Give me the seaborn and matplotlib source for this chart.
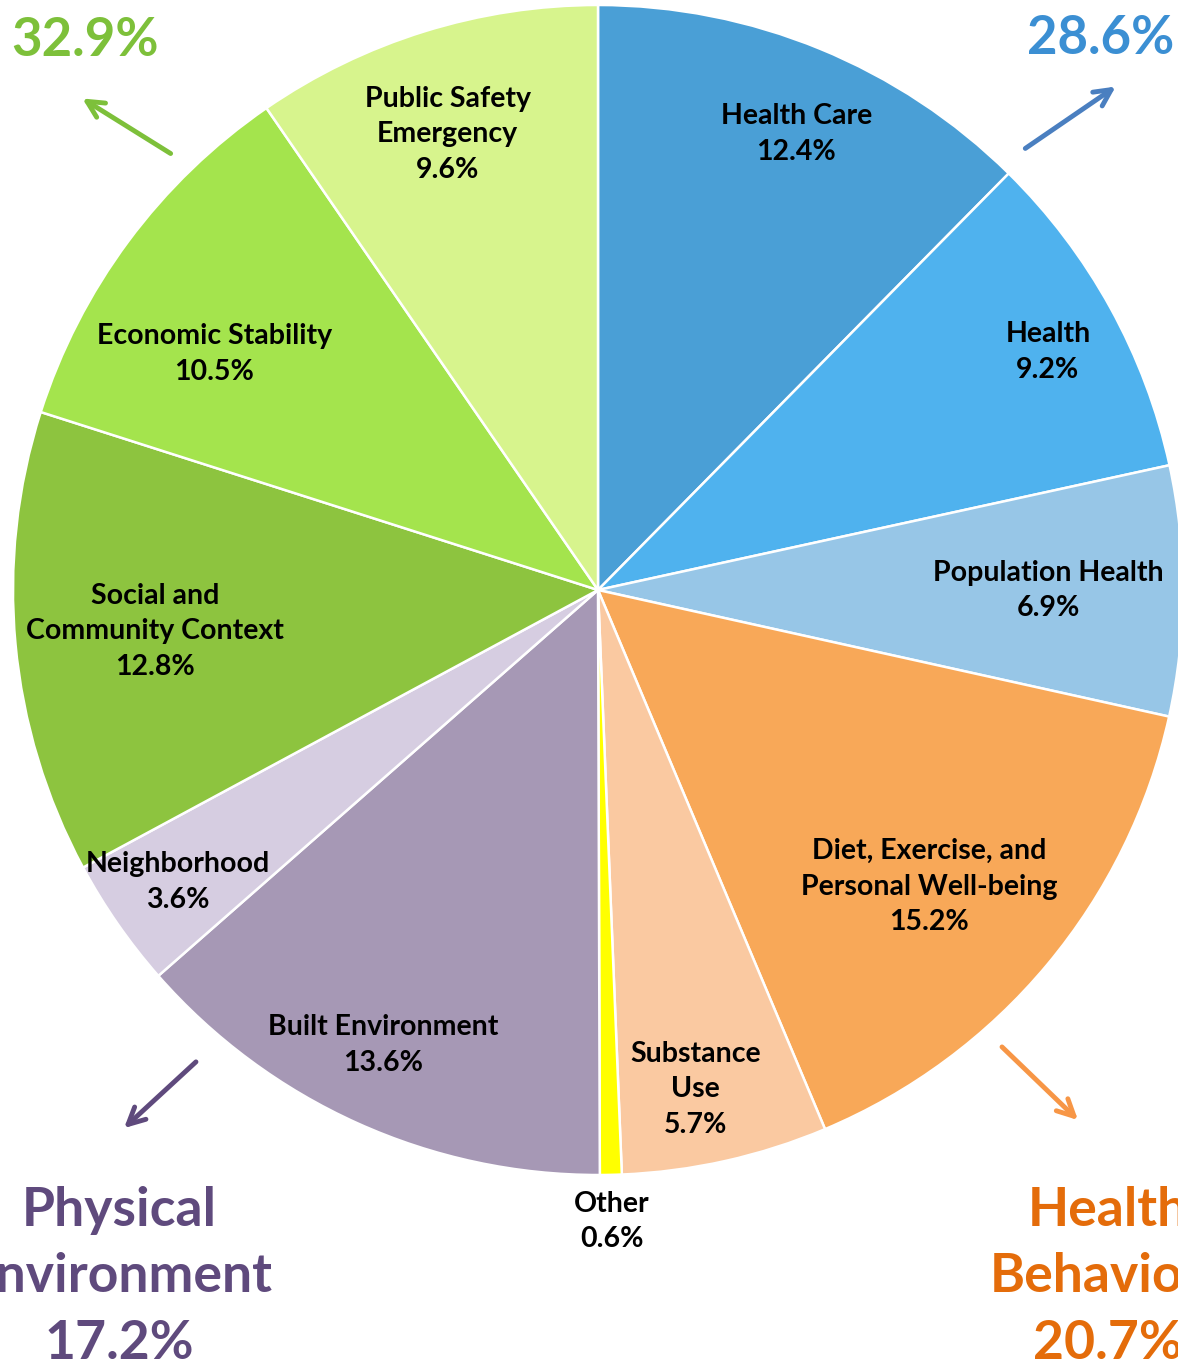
import numpy as np
import matplotlib
matplotlib.use("Agg")
import matplotlib.pyplot as plt
import seaborn as sns

# ---- data ----
categories = ["Health Care", "Health", "Population Health",
              "Diet, Exercise, and\nPersonal Well-being", "Substance\nUse", "Other",
              "Built Environment", "Neighborhood", "Social and\nCommunity Context",
              "Economic Stability", "Public Safety\nEmergency"]
values = [12.4, 9.2, 6.9, 15.2, 5.7, 0.6, 13.6, 3.6, 12.8, 10.5, 9.6]
value_labels = ["12.4%", "9.2%", "6.9%", "15.2%", "5.7%", "0.6%",
                "13.6%", "3.6%", "12.8%", "10.5%", "9.6%"]
colors = ["#4A9FD6", "#4FB2EE", "#97C6E7", "#F8A858", "#FAC9A1", "#FFFF00",
          "#A698B5", "#D6CDE1", "#8DC43F", "#A4E44D", "#D7F48D"]
group_labels = ["32.9%", "28.6%", "Physical\nEnvironment\n17.2%", "Health\nBehaviors\n20.7%"]
group_colors = ["#7DC03A", "#3B8FD3", "#5F4A7D", "#E46C0A"]
arrow_colors = ["#7DC03A", "#4A7FC0", "#5F4A7D", "#F79646"]

# ---- style ----
sns.set_theme(style="white")
plt.rcParams["font.family"] = ["Lato", "DejaVu Sans"]

W, H = 1178, 1372
fig = plt.figure(figsize=(W / 100, H / 100), dpi=100)
ax = fig.add_axes([0, 0, 1, 1])

cx, cy, R = 598, H - 590, 585
wedges, _ = ax.pie(values, colors=colors, startangle=90, counterclock=False,
                   center=(cx, cy), radius=R,
                   wedgeprops=dict(edgecolor="white", linewidth=1.8))
ax.set_xlim(0, W)
ax.set_ylim(0, H)
ax.set_aspect("equal")
ax.axis("off")

# radial fraction for each slice label
label_r = [0.85, 0.87, 0.77, 0.76, 0.87, 1.08, 0.86, 0.875, 0.76, 0.77, 0.82]
angle_adj = [-1.2, -1, 0, -2, -1.5, 0, -1, 0, 0, 5, 1]
for w, name, val, rf, da in zip(wedges, categories, value_labels, label_r, angle_adj):
    ang = np.deg2rad((w.theta1 + w.theta2) / 2 + da)
    x = cx + rf * R * np.cos(ang)
    y = cy + rf * R * np.sin(ang)
    ax.text(x, y, f"{name}\n{val}", ha="center", va="center",
            fontsize=20.5, fontweight="bold", color="black", linespacing=1.45)

# group totals
group_pos = [(85, H - 40), (1101, H - 38), (119, H - 1277), (1108, H - 1277)]
group_size = [38, 38, 38.5, 38.5]
for (gx, gy), txt, c, s in zip(group_pos, group_labels, group_colors, group_size):
    ax.text(gx, gy, txt, ha="center", va="center", fontsize=s,
            fontweight="bold", color=c, linespacing=1.44)

# arrows
arrows = [((173, 155), (80, 97)), ((1023, 150), (1118, 85)),
          ((198, 1060), (122, 1130)), ((1000, 1045), (1080, 1122))]
for ((x0, y0), (x1, y1)), c in zip(arrows, arrow_colors):
    ax.annotate("", xy=(x1, H - y1), xytext=(x0, H - y0),
                arrowprops=dict(arrowstyle="->,head_length=1.0,head_width=0.5",
                                color=c, lw=3.5))

fig.savefig("out.png", dpi=100)
